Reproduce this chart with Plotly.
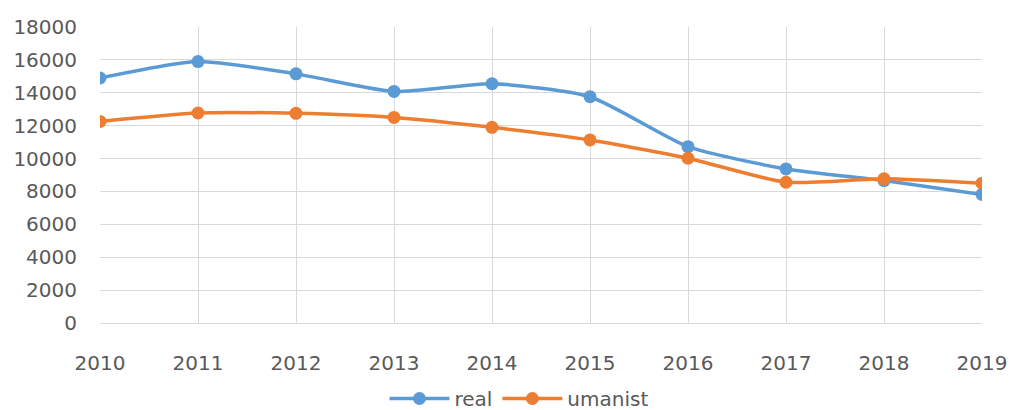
import plotly.graph_objects as go

years = [2010, 2011, 2012, 2013, 2014, 2015, 2016, 2017, 2018, 2019]
real = [14900, 15900, 15150, 14080, 14550, 13760, 10720, 9370, 8660, 7820]
umanist = [12260, 12770, 12750, 12500, 11900, 11130, 10020, 8560, 8770, 8500]
y_ticks = list(range(0, 18001, 2000))

fig = go.Figure()
fig.add_trace(go.Scatter(x=years, y=real, name="real", mode="lines+markers",
                         line=dict(color="#5B9BD5", width=3.5, shape="spline", smoothing=0.6),
                         marker=dict(size=13, color="#5B9BD5")))
fig.add_trace(go.Scatter(x=years, y=umanist, name="umanist", mode="lines+markers",
                         line=dict(color="#ED7D31", width=3.5, shape="spline", smoothing=0.6),
                         marker=dict(size=13, color="#ED7D31")))

font = dict(family="DejaVu Sans", size=20, color="#595959")
fig.update_layout(
    width=1011, height=410,
    margin=dict(l=100, r=29, t=27, b=87, autoexpand=False),
    paper_bgcolor="white", plot_bgcolor="white",
    font=font,
    showlegend=True,
    legend=dict(orientation="h", x=0.475, xanchor="center", y=-0.255, yanchor="middle",
                font=dict(family="DejaVu Sans", size=20, color="#595959"),
                itemwidth=60, tracegroupgap=0),
    xaxis=dict(range=[2010, 2019], tickvals=years, ticktext=[str(y) for y in years],
               showgrid=True, gridcolor="#d9d9d9", gridwidth=1, automargin=False,
               showline=True, linecolor="#d9d9d9", linewidth=1, zeroline=False,
               ticks="", ticklabelstandoff=22, tickfont=font),
    yaxis=dict(range=[0, 18000], tickvals=y_ticks, ticktext=[str(v) for v in y_ticks],
               showgrid=True, gridcolor="#d9d9d9", automargin=False,
               gridwidth=1, zeroline=False, showline=False, ticks="",
               ticklabelstandoff=22, tickfont=font),
)
fig.write_html("out.html", config={"displayModeBar": False},
               post_script="document.body.style.margin='0';document.body.style.overflow='hidden';")
